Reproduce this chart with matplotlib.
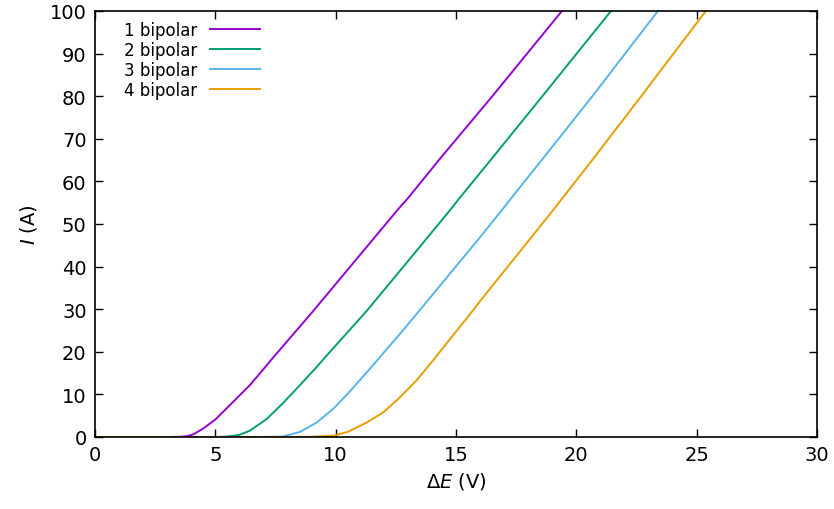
import matplotlib
matplotlib.use("Agg")
import matplotlib.pyplot as plt

# ---- data ----
labels = ["1 bipolar", "2 bipolar", "3 bipolar", "4 bipolar"]
colors = ["#9400d3", "#009e73", "#56b4e9", "#e69f00"]

x1 = [0, 2.0, 3.0, 3.5, 3.83, 4.08, 4.5, 5.0, 5.75, 6.44, 6.98, 7.35, 9.07, 12.60, 12.98, 14.33, 16.48, 19.40]
i1 = [0, 0, 0, 0.05, 0.2, 0.6, 2.0, 4.1, 8.3, 12.2, 15.8, 18.3, 29.6, 53.5, 55.9, 65.3, 79.8, 100]

x2 = [0, 4.0, 5.0, 5.47, 6.0, 6.44, 7.13, 7.82, 8.52, 9.22, 9.56, 11.29, 12.67, 14.79, 15.12, 16.48, 18.56, 21.44]
i2 = [0, 0, 0, 0.1, 0.5, 1.5, 4.2, 8.0, 12.2, 16.5, 18.7, 29.6, 39.0, 53.5, 55.9, 65.3, 79.8, 100]

x3 = [0, 6.0, 7.0, 7.8, 8.52, 9.21, 9.9, 10.59, 11.42, 11.77, 12.67, 13.47, 16.0, 16.94, 17.27, 18.60, 20.64, 23.39]
i3 = [0, 0, 0.02, 0.1, 1.2, 3.4, 6.6, 10.7, 16.0, 18.3, 24.2, 29.6, 46.9, 53.5, 55.9, 65.3, 79.8, 100]

x4 = [0, 8.0, 9.0, 9.9, 10.5, 11.29, 11.98, 12.67, 13.36, 13.99, 15.69, 16.0, 19.07, 19.40, 20.70, 22.67, 25.38]
i4 = [0, 0, 0.05, 0.3, 1.2, 3.4, 5.8, 9.3, 13.3, 17.6, 29.6, 31.9, 53.5, 55.9, 65.3, 79.8, 100]

xs = [x1, x2, x3, x4]
ys = [i1, i2, i3, i4]

xticks = [0, 5, 10, 15, 20, 25, 30]
yticks = [0, 10, 20, 30, 40, 50, 60, 70, 80, 90, 100]

# ---- figure ----
fig = plt.figure(figsize=(8.34, 5.10), dpi=100)
ax = fig.add_axes([95 / 834, 1 - 438 / 510, (817 - 95) / 834, (438 - 12) / 510])

for x, y, c, lab in zip(xs, ys, colors, labels):
    ax.plot(x, y, color=c, lw=1.4, label=lab, solid_joinstyle="round")

ax.set_xlim(0, 30)
ax.set_ylim(0, 100)
ax.set_xticks(xticks)
ax.set_yticks(yticks)
ax.tick_params(direction="in", length=6, width=1.0, top=True, right=True,
               labelsize=14, colors="black", pad=6)
for s in ax.spines.values():
    s.set_linewidth(1.2)

ax.set_xlabel("Δ$E$ (V)", fontsize=14, labelpad=4)
ax.set_ylabel("$I$ (A)", fontsize=14, labelpad=8)

leg = ax.legend(loc="upper left", bbox_to_anchor=(0.040, 0.977), frameon=False,
                markerfirst=False, fontsize=12, handlelength=3.0,
                handletextpad=0.8, labelspacing=0.12, borderpad=0, borderaxespad=0)

fig.savefig("out.png", dpi=100)
